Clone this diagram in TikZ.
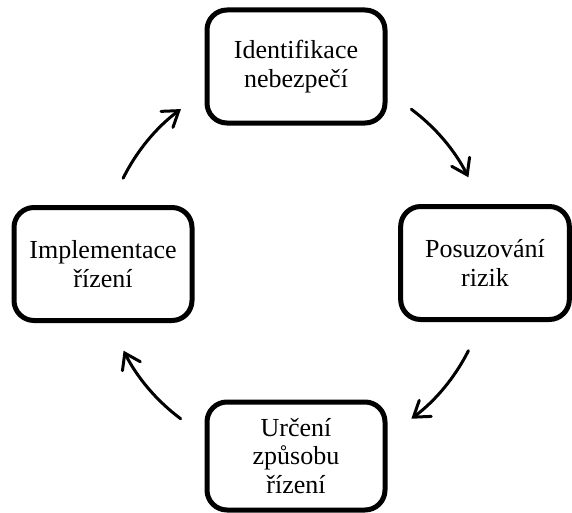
\documentclass[tikz,border=0pt]{standalone}
\usepackage{fontspec}
\setmainfont{Liberation Serif}
\usetikzlibrary{arrows.meta}
\begin{document}
\begin{tikzpicture}[x=0.75pt,y=0.75pt,
  stepbox/.style={draw, line width=3.75pt, rounded corners=15pt,
    minimum width=133.5pt, minimum height=84.75pt, inner sep=0pt,
    align=center, font=\fontsize{19.5}{21.5}\selectfont},
  cyclearrow/.style={line width=2.25pt, line cap=round,
    -{Straight Barb[length=11pt,width=15pt,line cap=round]}}]
\useasboundingbox[fill=white] (0,0) rectangle (572,512);
\node[stepbox] (ident) at (296,445.5) {Identifikace\\nebezpečí};
\node[stepbox, minimum width=126.5pt] (posuz) at (485,249) {Posuzování\\rizik};
\node[stepbox, minimum height=81pt] (urceni) at (296,56) {Určení\\způsobu\\řízení};
\node[stepbox] (impl) at (103,248) {Implementace\\řízení};
\coordinate (c) at (296,248);
\draw[cyclearrow] ([shift={(153.6:144.75pt)}]c) arc[start angle=153.6, end angle=126.6, radius=144.75pt];
\draw[cyclearrow] ([shift={(53.3:144.75pt)}]c) arc[start angle=53.3, end angle=26.7, radius=144.75pt];
\draw[cyclearrow] ([shift={(-26.7:144.75pt)}]c) arc[start angle=-26.7, end angle=-53.3, radius=144.75pt];
\draw[cyclearrow] ([shift={(233.3:144.75pt)}]c) arc[start angle=233.3, end angle=206.7, radius=144.75pt];
\end{tikzpicture}
\end{document}
